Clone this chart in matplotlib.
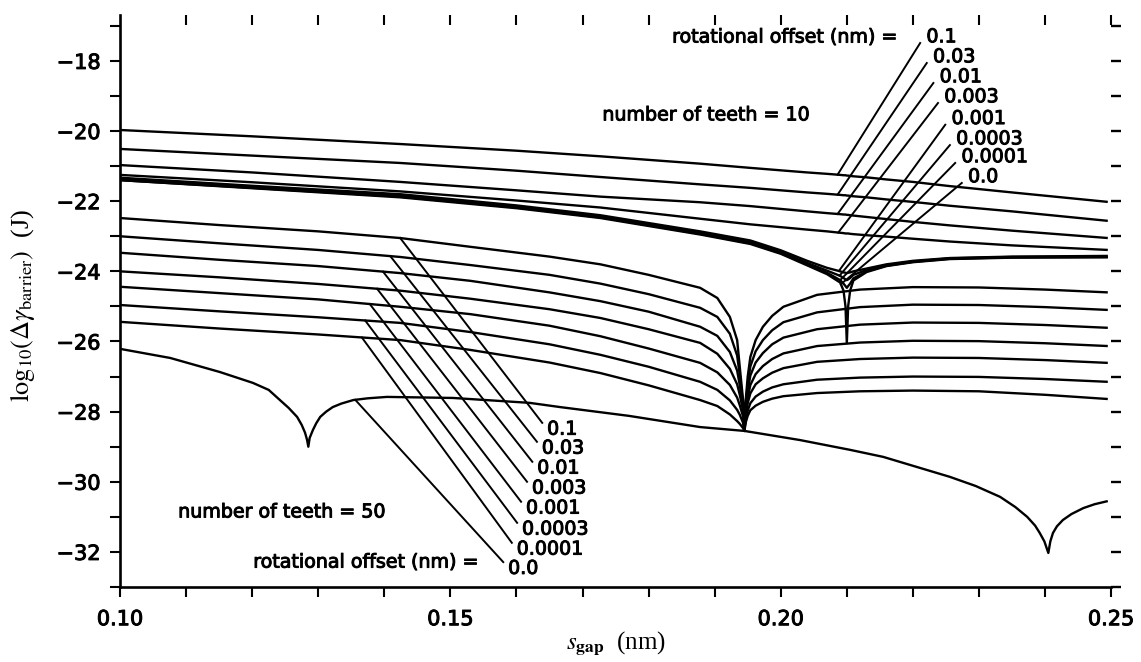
import numpy as np
import matplotlib.pyplot as plt
import matplotlib.patheffects as pe
from matplotlib.ticker import MultipleLocator, FixedLocator, FormatStrFormatter

plt.rcParams["font.family"] = ["DejaVu Sans"]
plt.rcParams["mathtext.fontset"] = "stix"

offset_labels = ["0.1", "0.03", "0.01", "0.003", "0.001", "0.0003", "0.0001", "0.0"]

# ---- number of teeth = 10 ----
s_gap_10 = [0.100, 0.120, 0.1424, 0.160, 0.1727, 0.1878, 0.1954, 0.200, 0.204, 0.207, 0.209,
            0.2095, 0.2098, 0.2100, 0.2102, 0.2105, 0.211, 0.213, 0.216, 0.220, 0.2256, 0.235, 0.2495]
t10_off_0p1 = [-19.97, -20.15, -20.37, -20.56, -20.72, -20.93, -21.05, -21.12, -21.18, -21.22, -21.25,
               -21.26, -21.26, -21.27, -21.27, -21.28, -21.29, -21.32, -21.38, -21.45, -21.57, -21.75, -22.02]
t10_off_0p03 = [-20.51, -20.70, -20.91, -21.13, -21.31, -21.52, -21.62, -21.69, -21.75, -21.79, -21.82,
                -21.83, -21.83, -21.84, -21.84, -21.85, -21.86, -21.89, -21.95, -22.02, -22.13, -22.29, -22.56]
t10_off_0p01 = [-20.97, -21.18, -21.45, -21.69, -21.87, -22.03, -22.14, -22.22, -22.29, -22.34, -22.37,
                -22.38, -22.38, -22.39, -22.39, -22.40, -22.41, -22.45, -22.51, -22.59, -22.69, -22.84, -23.05]
t10_off_0p003 = [-21.25, -21.46, -21.72, -21.98, -22.18, -22.50, -22.66, -22.74, -22.81, -22.86, -22.90,
                 -22.91, -22.92, -22.92, -22.92, -22.93, -22.94, -22.97, -23.01, -23.07, -23.15, -23.26, -23.39]
t10_off_0p001 = [-21.33, -21.56, -21.80, -22.12, -22.40, -22.86, -23.12, -23.40, -23.70, -23.90, -24.00,
                 -24.03, -24.04, -24.05, -24.04, -24.03, -24.00, -23.92, -23.80, -23.70, -23.62, -23.58, -23.56]
t10_off_0p0003 = [-21.37, -21.60, -21.84, -22.16, -22.44, -22.90, -23.17, -23.45, -23.76, -23.98, -24.13,
                  -24.19, -24.23, -24.25, -24.23, -24.19, -24.10, -23.96, -23.82, -23.72, -23.63, -23.59, -23.58]
t10_off_0p0001 = [-21.40, -21.62, -21.87, -22.18, -22.46, -22.93, -23.20, -23.48, -23.80, -24.04, -24.25,
                  -24.35, -24.42, -24.47, -24.42, -24.35, -24.20, -24.00, -23.84, -23.73, -23.64, -23.60, -23.59]
t10_off_0p0 = [-21.40, -21.63, -21.89, -22.20, -22.48, -22.95, -23.22, -23.50, -23.83, -24.08, -24.32,
               -24.55, -25.00, -26.05, -25.00, -24.55, -24.26, -24.02, -23.85, -23.74, -23.65, -23.61, -23.60]

# ---- number of teeth = 50 ----
s_gap_50 = [0.100, 0.115, 0.130, 0.1424, 0.153, 0.165, 0.1727, 0.180, 0.1878, 0.1904, 0.1923, 0.1934,
            0.1938, 0.1943, 0.1945, 0.1947, 0.1950, 0.1954, 0.1962, 0.1973, 0.1987, 0.2004, 0.2055,
            0.212, 0.220, 0.230, 0.240, 0.2495]
t50_off_0p1 = [-22.48, -22.68, -22.86, -23.05, -23.30, -23.58, -23.80, -24.10, -24.47, -24.76, -25.30, -25.96,
               -26.73, -27.67, -28.55, -27.67, -27.00, -26.44, -25.96, -25.58, -25.27, -25.01, -24.67,
               -24.52, -24.45, -24.46, -24.52, -24.60]
t50_off_0p03 = [-23.00, -23.20, -23.39, -23.59, -23.82, -24.10, -24.35, -24.65, -25.04, -25.30, -25.78, -26.40,
                -26.97, -27.78, -28.55, -27.79, -27.20, -26.71, -26.28, -25.96, -25.68, -25.45, -25.17,
                -25.02, -24.95, -24.96, -25.02, -25.10]
t50_off_0p01 = [-23.47, -23.67, -23.85, -24.05, -24.27, -24.60, -24.85, -25.15, -25.58, -25.84, -26.30, -26.83,
                -27.25, -27.88, -28.55, -27.90, -27.40, -26.97, -26.60, -26.33, -26.08, -25.89, -25.65,
                -25.52, -25.46, -25.47, -25.53, -25.61]
t50_off_0p003 = [-24.00, -24.17, -24.36, -24.55, -24.78, -25.08, -25.33, -25.65, -26.04, -26.35, -26.78, -27.22,
                 -27.52, -27.98, -28.55, -28.01, -27.60, -27.24, -26.93, -26.70, -26.50, -26.34, -26.13,
                 -26.03, -25.98, -25.99, -26.05, -26.13]
t50_off_0p001 = [-24.44, -24.62, -24.80, -25.01, -25.22, -25.55, -25.85, -26.20, -26.61, -26.88, -27.24, -27.60,
                 -27.82, -28.14, -28.55, -28.11, -27.76, -27.48, -27.22, -27.05, -26.89, -26.76, -26.58,
                 -26.50, -26.46, -26.47, -26.53, -26.61]
t50_off_0p0003 = [-24.96, -25.14, -25.31, -25.47, -25.73, -26.08, -26.38, -26.72, -27.15, -27.38, -27.68, -27.95,
                  -28.09, -28.32, -28.55, -28.22, -27.97, -27.76, -27.57, -27.43, -27.31, -27.22, -27.09,
                  -27.03, -27.00, -27.01, -27.07, -27.15]
t50_off_0p0001 = [-25.44, -25.63, -25.80, -25.96, -26.24, -26.60, -26.90, -27.25, -27.67, -27.84, -28.08, -28.27,
                  -28.35, -28.47, -28.55, -28.31, -28.12, -27.96, -27.83, -27.72, -27.63, -27.56, -27.47,
                  -27.42, -27.40, -27.42, -27.52, -27.64]
s_gap_50_zero = [0.100, 0.1076, 0.1151, 0.1201, 0.1225, 0.1242, 0.1255, 0.1268, 0.1275, 0.1280, 0.1283,
                 0.1285, 0.1287, 0.1292, 0.1297, 0.1303, 0.1312, 0.1322, 0.1335, 0.1353, 0.1375, 0.1404,
                 0.1504, 0.162, 0.1666, 0.177, 0.1878, 0.1945, 0.2029, 0.2105, 0.2155, 0.2256, 0.2295,
                 0.2332, 0.2355, 0.2373, 0.2385, 0.2392, 0.2399, 0.2405, 0.2408, 0.2412, 0.2418, 0.2427,
                 0.2440, 0.2458, 0.2475, 0.2495]
t50_off_0p0 = [-26.21, -26.47, -26.87, -27.18, -27.38, -27.67, -27.89, -28.15, -28.38, -28.60, -28.80,
               -29.00, -28.75, -28.52, -28.33, -28.15, -28.00, -27.87, -27.77, -27.67, -27.62, -27.58,
               -27.61, -27.75, -27.87, -28.12, -28.44, -28.55, -28.81, -29.09, -29.29, -29.86, -30.12,
               -30.43, -30.72, -31.00, -31.25, -31.46, -31.70, -32.03, -31.70, -31.46, -31.27, -31.09,
               -30.92, -30.75, -30.64, -30.55]

# leader lines: where they leave each curve and where the offset label sits
lead10_x = [0.2086, 0.2086, 0.2086, 0.2087, 0.2088, 0.2089, 0.2090, 0.2091]
tag10_x = [0.2211, 0.2221, 0.2231, 0.2238, 0.2249, 0.2256, 0.2264, 0.2274]
tag10_y = [-17.49, -18.06, -18.63, -19.20, -19.82, -20.40, -20.91, -21.48]
lead50_x = [0.1424, 0.1409, 0.1398, 0.1389, 0.1378, 0.1371, 0.1366, 0.1356]
tag50_x = [0.1639, 0.1631, 0.1624, 0.1616, 0.1607, 0.1601, 0.1593, 0.1580]
tag50_y = [-28.32, -28.86, -29.43, -30.00, -30.57, -31.17, -31.74, -32.29]

curves10 = [t10_off_0p1, t10_off_0p03, t10_off_0p01, t10_off_0p003,
            t10_off_0p001, t10_off_0p0003, t10_off_0p0001, t10_off_0p0]
curves50 = [(s_gap_50, t50_off_0p1), (s_gap_50, t50_off_0p03), (s_gap_50, t50_off_0p01),
            (s_gap_50, t50_off_0p003), (s_gap_50, t50_off_0p001), (s_gap_50, t50_off_0p0003),
            (s_gap_50, t50_off_0p0001), (s_gap_50_zero, t50_off_0p0)]

FS = 13.7
TICK_FS = 15
heavy = [pe.withStroke(linewidth=0.7, foreground="black")]

fig = plt.figure(figsize=(11.41, 6.62), dpi=100)
ax = fig.add_axes([0.1052, 0.1133, 0.8686, 0.8641])

line_kw = dict(color="black", lw=1.7, solid_joinstyle="round", solid_capstyle="butt")
for ys in curves10:
    ax.plot(s_gap_10, ys, **line_kw)
for xs, ys in curves50:
    ax.plot(xs, ys, **line_kw)

lead_kw = dict(color="black", lw=1.4)
for ys, fx, tx, ty, lab in zip(curves10, lead10_x, tag10_x, tag10_y, offset_labels):
    fy = np.interp(fx, s_gap_10, ys)
    ax.plot([fx, tx], [fy, ty], **lead_kw)
    ax.annotate(lab, (tx, ty), xytext=(4.5, 0.5), textcoords="offset points",
                ha="left", va="baseline", fontsize=FS, path_effects=heavy)
for (xs, ys), fx, tx, ty, lab in zip(curves50, lead50_x, tag50_x, tag50_y, offset_labels):
    fy = np.interp(fx, xs, ys)
    ax.plot([fx, tx], [fy, ty], **lead_kw)
    ax.annotate(lab, (tx, ty), xytext=(3.5, -8.5), textcoords="offset points",
                ha="left", va="baseline", fontsize=FS, path_effects=heavy)

ax.text(0.2176, -17.32, "rotational offset (nm) =", ha="right", va="center", fontsize=FS, path_effects=heavy)
ax.text(0.1730, -19.54, "number of teeth = 10", ha="left", va="center", fontsize=FS, path_effects=heavy)
ax.text(0.1088, -30.86, "number of teeth = 50", ha="left", va="center", fontsize=FS, path_effects=heavy)
ax.text(0.1542, -32.29, "rotational offset (nm) =", ha="right", va="center", fontsize=FS, path_effects=heavy)

ax.set_xlim(0.10, 0.25)
ax.set_ylim(-33.0, -16.69)

ax.xaxis.set_major_locator(FixedLocator([0.10, 0.15, 0.20, 0.25]))
ax.xaxis.set_major_formatter(FormatStrFormatter("%.2f"))
ax.xaxis.set_minor_locator(MultipleLocator(0.01))
ax.yaxis.set_major_locator(MultipleLocator(2))
ax.yaxis.set_minor_locator(MultipleLocator(1))
ax.tick_params(axis="both", which="both", direction="out", length=7, width=1.5, labelsize=TICK_FS)
ax.tick_params(axis="x", which="major", pad=9)
ax.tick_params(axis="y", which="major", pad=7)
for lab in ax.get_xticklabels() + ax.get_yticklabels():
    lab.set_path_effects(heavy)
for side in ("top", "right"):
    ax.spines[side].set_visible(False)
for side in ("left", "bottom"):
    ax.spines[side].set_linewidth(1.9)

# tick marks along the top and right edges, no spine lines
top = ax.secondary_xaxis("top")
top.xaxis.set_major_locator(FixedLocator(np.arange(0.11, 0.2501, 0.01)))
top.tick_params(direction="in", length=7.5, width=1.5, labeltop=False)
top.spines["top"].set_visible(False)
right = ax.secondary_yaxis("right")
right.yaxis.set_major_locator(MultipleLocator(1))
right.tick_params(direction="out", length=7.5, width=1.7, labelright=False)
right.spines["right"].set_visible(False)

fig.text(23 / 1141, 1 - 305 / 662,
         r"$\log_{10}\!\left(\Delta\gamma_{\mathrm{barrier}}\right)$  (J)",
         rotation=90, ha="center", va="center", fontsize=19, family="Liberation Serif")
fig.text(616 / 1141, 1 - 643 / 662, r"$s_{\mathbf{gap}}$  (nm)",
         ha="center", va="center", fontsize=18, family="Liberation Serif")

fig.savefig("out.png", dpi=100)
